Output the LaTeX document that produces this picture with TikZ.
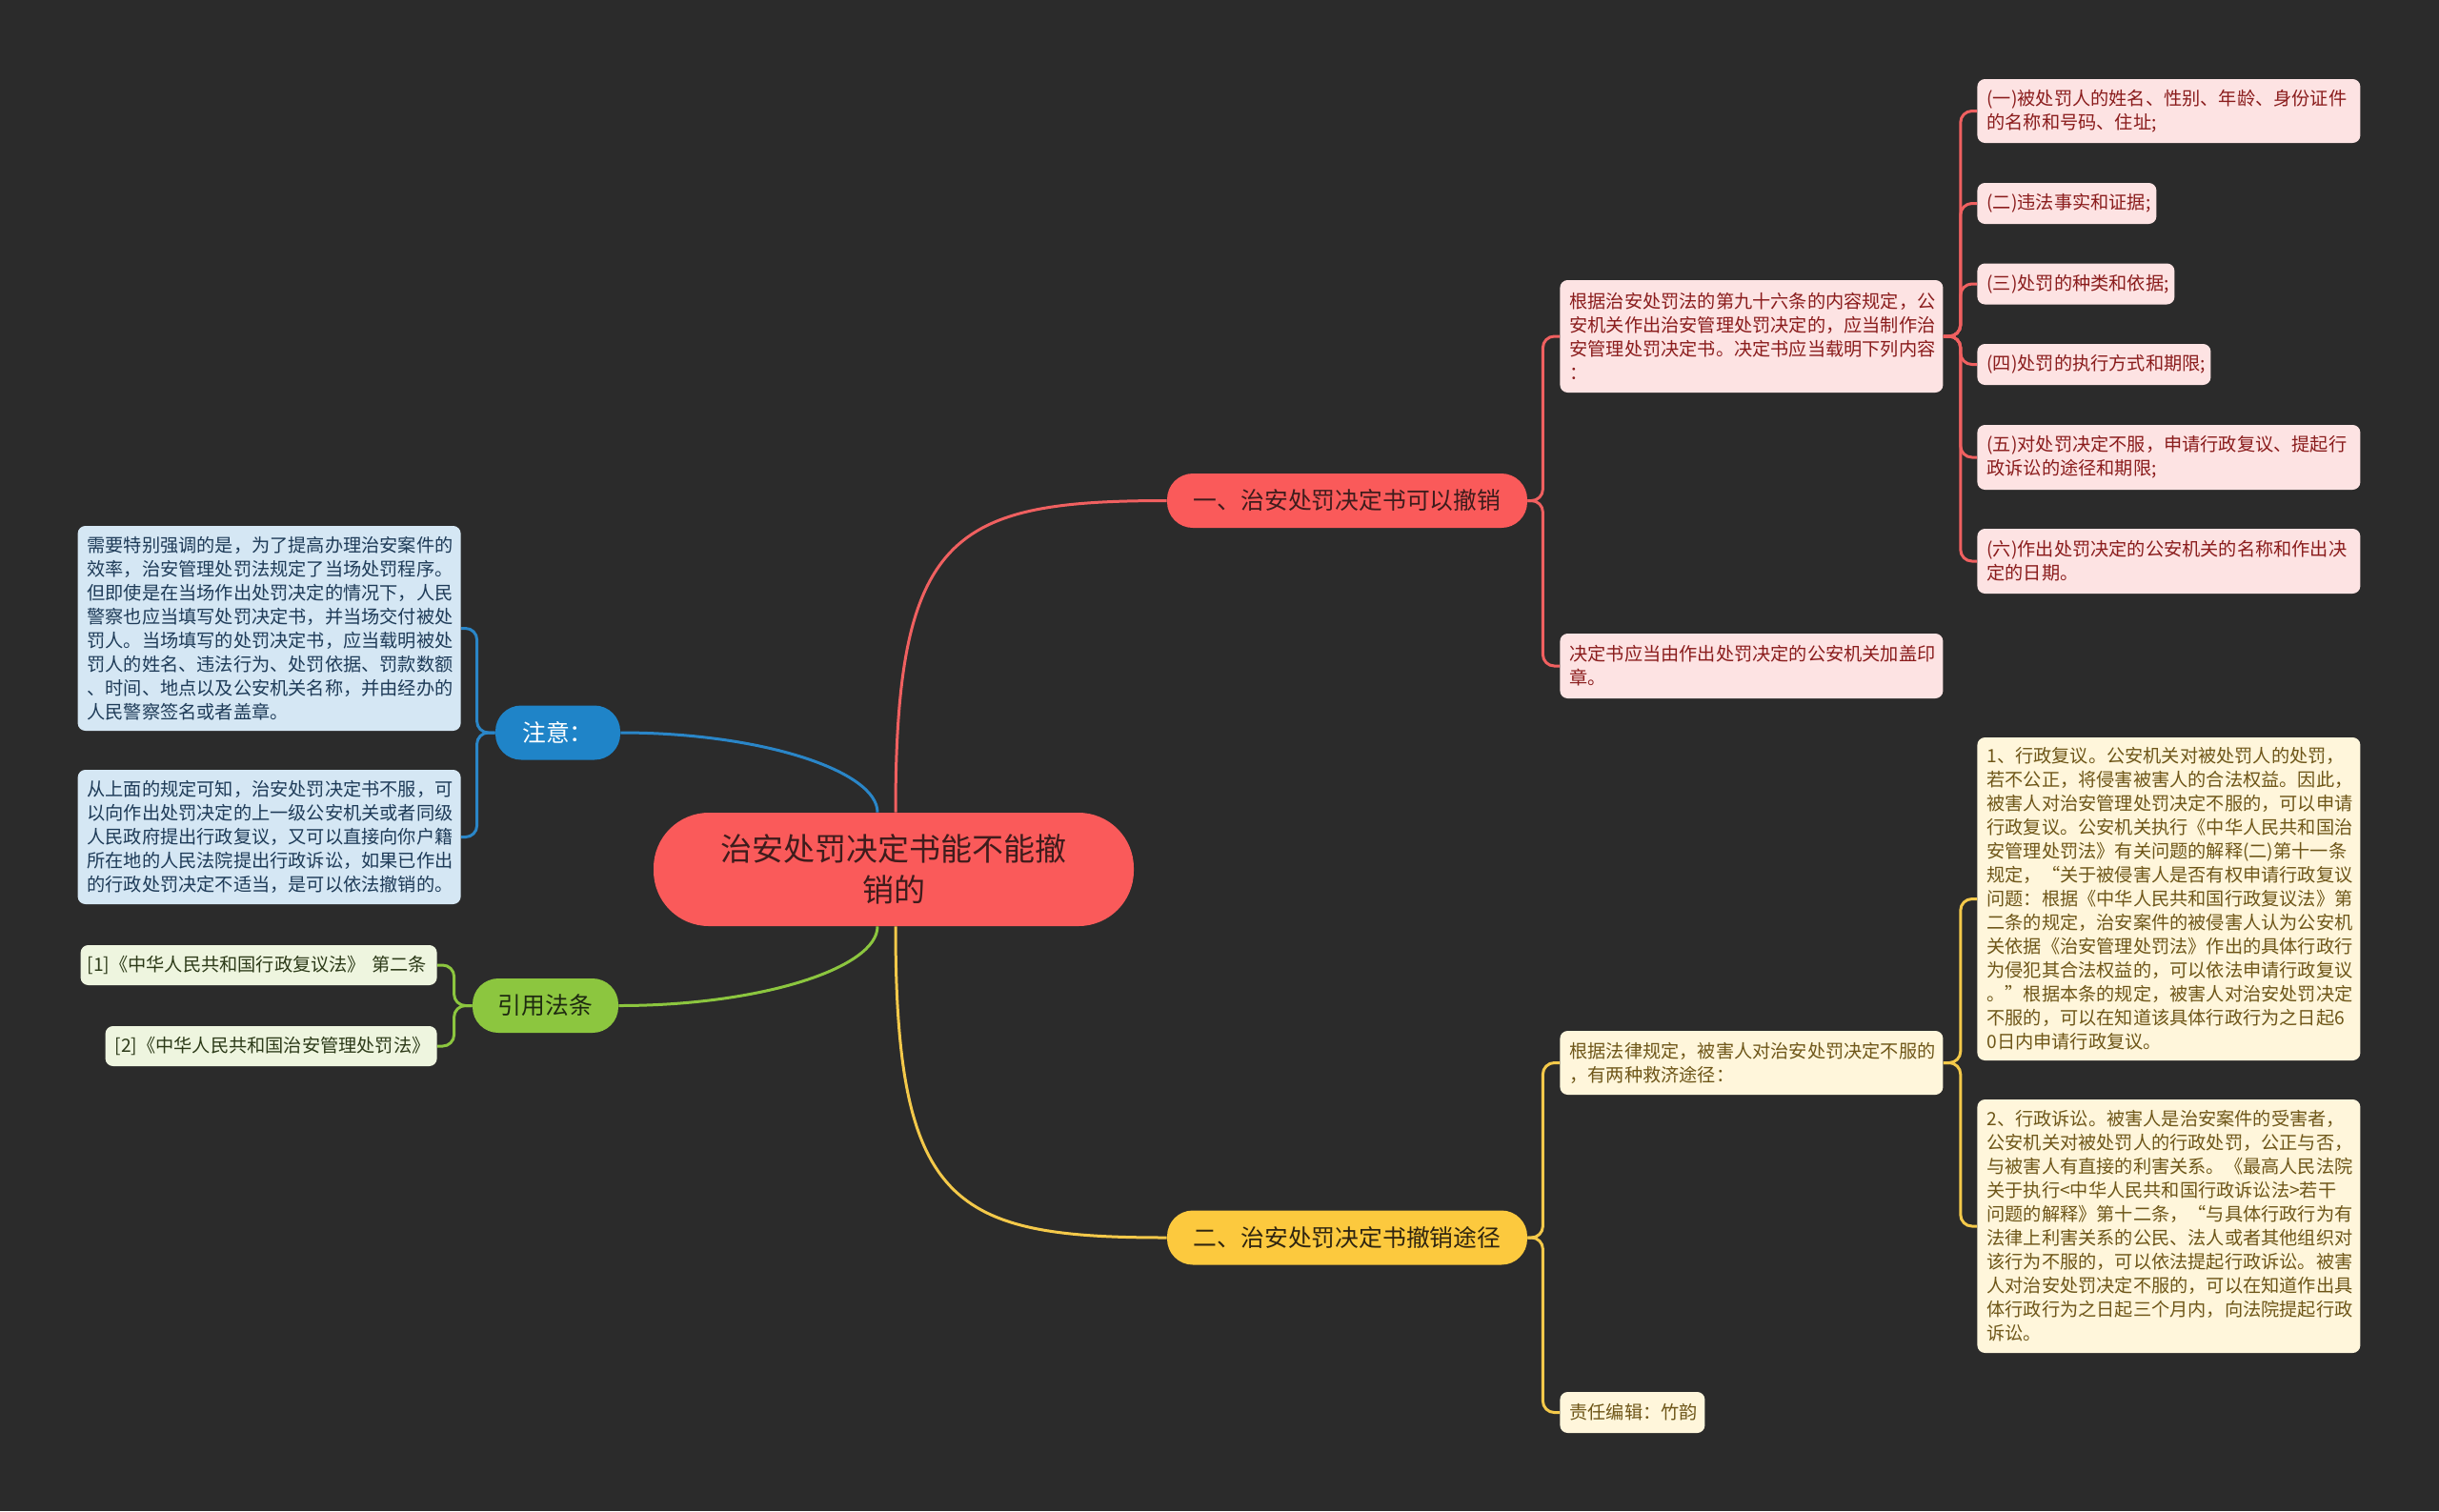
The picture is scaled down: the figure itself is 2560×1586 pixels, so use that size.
\documentclass[tikz,border=0pt]{standalone}
\usepackage{fontspec}
\setmainfont{Noto Sans CJK SC}
\usetikzlibrary{calc}
\definecolor{bg}{HTML}{2B2B2B}
\definecolor{hot}{HTML}{FA5A5A}
\definecolor{hotink}{HTML}{3E1C1C}
\definecolor{redline}{HTML}{F06060}
\definecolor{redfill}{HTML}{FDE3E3}
\definecolor{redink}{HTML}{8A1C1C}
\definecolor{gold}{HTML}{FCC93E}
\definecolor{goldtext}{HTML}{2E2410}
\definecolor{goldline}{HTML}{F4C94A}
\definecolor{goldfill}{HTML}{FFF6DB}
\definecolor{goldink}{HTML}{6E5618}
\definecolor{sky}{HTML}{1F84C8}
\definecolor{blueline}{HTML}{2A86C8}
\definecolor{bluefill}{HTML}{D5E7F4}
\definecolor{blueink}{HTML}{1E3B58}
\definecolor{lime}{HTML}{8CC63F}
\definecolor{limetext}{HTML}{1E2A10}
\definecolor{limefill}{HTML}{EEF5DF}
\definecolor{limeink}{HTML}{2C3A18}

\begin{document}
\begin{tikzpicture}[x=0.5pt,y=0.5pt,
  hub/.style={rounded corners=29pt,minimum width=252pt,minimum height=59.5pt,inner sep=0pt,align=center,font=\fontsize{16.5}{21.5}\selectfont},
  topic/.style={rounded corners=13.5pt,minimum height=28.5pt,inner sep=0pt,font=\fontsize{12.4}{15}\selectfont},
  leaf/.style={rounded corners=4pt,inner xsep=5pt,inner ysep=2pt,align=left,font=\fontsize{9.6}{12.5}\selectfont},
  redbox/.style={leaf,fill=redfill,text=redink,anchor=west},
  goldbox/.style={leaf,fill=goldfill,text=goldink,anchor=west},
  bluebox/.style={leaf,fill=bluefill,text=blueink,anchor=east},
  limebox/.style={leaf,fill=limefill,text=limeink,anchor=east},
  link/.style={line width=1.5pt},
  fork/.style={line width=1.5pt,rounded corners=6pt}]
  \fill[bg] (0,0) rectangle (2560,-1586);
  \useasboundingbox (0,0) rectangle (2560,-1586);

  % centre and main topics
  \node[hub,fill=hot,text=hotink] (root) at (938,-912.5) {治安处罚决定书能不能撤\\销的};
  \node[topic,fill=hot,text=hotink,minimum width=189pt] (br1) at (1414,-525.5) {一、治安处罚决定书可以撤销};
  \node[topic,fill=gold,text=goldtext,minimum width=189pt] (br2) at (1414,-1299) {二、治安处罚决定书撤销途径};
  \node[topic,fill=sky,text=white,minimum width=65.5pt] (note) at (585.5,-769) {注意：};
  \node[topic,fill=lime,text=limetext,minimum width=76.5pt] (cite) at (572.5,-1055.5) {引用法条};

  % first branch
  \node[redbox,text width=191pt,minimum height=59pt] (rule) at (1637,-353) {根据治安处罚法的第九十六条的内容规定，公\\安机关作出治安管理处罚决定的，应当制作治\\安管理处罚决定书。决定书应当载明下列内容\\：};
  \node[redbox,text width=191pt,minimum height=34pt] (seal) at (1637,-699) {决定书应当由作出处罚决定的公安机关加盖印\\章。};
  \foreach \n/\y/\w/\h/\t in {
    1/116.5/191/33.5/{(一)被处罚人的姓名、性别、年龄、身份证件\\的名称和号码、住址;},
    2/213.5/84/21.5/{(二)违法事实和证据;},
    3/298/93.5/21.5/{(三)处罚的种类和依据;},
    4/382.5/112.5/21.5/{(四)处罚的执行方式和期限;},
    5/480/191/34/{(五)对处罚决定不服，申请行政复议、提起行\\政诉讼的途径和期限;},
    6/589/191/34/{(六)作出处罚决定的公安机关的名称和作出决\\定的日期。}}
    \node[redbox,text width=\w pt,minimum height=\h pt] (i\n) at (2075,-\y) {\t};

  % second branch
  \node[goldbox,text width=191pt,minimum height=33.5pt] (relief) at (1637,-1115.5) {根据法律规定，被害人对治安处罚决定不服的\\，有两种救济途径：};
  \node[goldbox,text width=66pt,minimum height=21.5pt] (editor) at (1637,-1482.5) {责任编辑：竹韵};
  \node[goldbox,text width=191pt,minimum height=169.5pt] (review) at (2075,-943.5) {1、行政复议。公安机关对被处罚人的处罚，\\若不公正，将侵害被害人的合法权益。因此，\\被害人对治安管理处罚决定不服的，可以申请\\行政复议。公安机关执行《中华人民共和国治\\安管理处罚法》有关问题的解释(二)第十一条\\规定，“关于被侵害人是否有权申请行政复议\\问题：根据《中华人民共和国行政复议法》第\\二条的规定，治安案件的被侵害人认为公安机\\关依据《治安管理处罚法》作出的具体行政行\\为侵犯其合法权益的，可以依法申请行政复议\\。”根据本条的规定，被害人对治安处罚决定\\不服的，可以在知道该具体行政行为之日起6\\0日内申请行政复议。};
  \node[goldbox,text width=191pt,minimum height=133pt] (suit) at (2075,-1287) {2、行政诉讼。被害人是治安案件的受害者，\\公安机关对被处罚人的行政处罚，公正与否，\\与被害人有直接的利害关系。《最高人民法院\\关于执行<中华人民共和国行政诉讼法>若干\\问题的解释》第十二条，“与具体行政行为有\\法律上利害关系的公民、法人或者其他组织对\\该行为不服的，可以依法提起行政诉讼。被害\\人对治安处罚决定不服的，可以在知道作出具\\体行政行为之日起三个月内，向法院提起行政\\诉讼。};

  % left side
  \node[bluebox,text width=191pt,minimum height=107.5pt] (noteA) at (484,-659.5) {需要特别强调的是，为了提高办理治安案件的\\效率，治安管理处罚法规定了当场处罚程序。\\但即使是在当场作出处罚决定的情况下，人民\\警察也应当填写处罚决定书，并当场交付被处\\罚人。当场填写的处罚决定书，应当载明被处\\罚人的姓名、违法行为、处罚依据、罚款数额\\、时间、地点以及公安机关名称，并由经办的\\人民警察签名或者盖章。};
  \node[bluebox,text width=191pt,minimum height=70.5pt] (noteB) at (484,-878.5) {从上面的规定可知，治安处罚决定书不服，可\\以向作出处罚决定的上一级公安机关或者同级\\人民政府提出行政复议，又可以直接向你户籍\\所在地的人民法院提出行政诉讼，如果已作出\\的行政处罚决定不适当，是可以依法撤销的。};
  \node[limebox,text width=180pt,inner xsep=3.5pt,minimum height=21pt] (lawA) at (459,-1013) {[1]《中华人民共和国行政复议法》~第二条};
  \node[limebox,text width=164pt,minimum height=21pt] (lawB) at (459,-1098) {[2]《中华人民共和国治安管理处罚法》};

  % curves out of the centre
  \coordinate (rN) at ($(root.north)+(2,0)$);
  \coordinate (rNW) at ($(root.north)+(-17,0)$);
  \coordinate (rS) at ($(root.south)+(2,0)$);
  \coordinate (rSW) at ($(root.south)+(-17,0)$);
  \draw[link,redline] (rN) .. controls +(0,293) and +(-225,0) .. (br1.west);
  \draw[link,goldline] (rS) .. controls +(0,-293) and +(-225,0) .. (br2.west);
  \draw[link,blueline] (rNW) .. controls +(0,43) and +(149,0) .. (note.east);
  \draw[link,lime] (rSW) .. controls +(0,-43) and +(151,0) .. (cite.east);

  % forks to the leaves
  \foreach \c in {rule,seal} \draw[fork,redline] (br1.east) -- ++(16,0) |- (\c.west);
  \foreach \n in {1,...,6} \draw[fork,redline] (rule.east) -- ++(18,0) |- (i\n.west);
  \foreach \c in {relief,editor} \draw[fork,goldline] (br2.east) -- ++(16,0) |- (\c.west);
  \foreach \c in {review,suit} \draw[fork,goldline] (relief.east) -- ++(18,0) |- (\c.west);
  \foreach \c in {noteA,noteB} \draw[fork,blueline] (note.west) -- ++(-19,0) |- (\c.east);
  \foreach \c in {lawA,lawB} \draw[fork,lime] (cite.west) -- ++(-19,0) |- (\c.east);
\end{tikzpicture}
\end{document}
